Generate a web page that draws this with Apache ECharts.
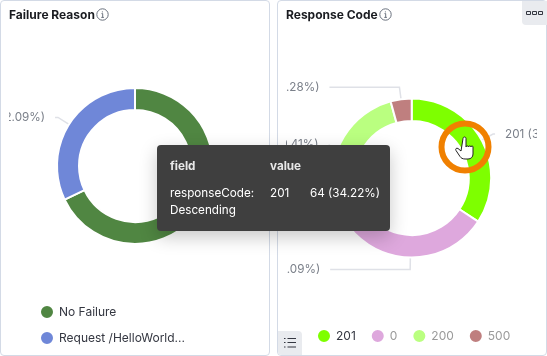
<!DOCTYPE html>
<html>
<head>
<meta charset="utf-8">
<script src="https://cdn.jsdelivr.net/npm/echarts@6/dist/echarts.min.js"></script>
<style>
html, body { margin: 0; padding: 0; background: #fff; }
body { width: 547px; height: 356px; position: relative; overflow: hidden; font-family: Inter, sans-serif; }
.panel { position: absolute; top: 0; height: 354px; background: #fff; border: 1px solid #d3dae6; border-radius: 4px; box-sizing: content-box; }
.clip { position: absolute; top: 0; height: 356px; overflow: hidden; }
.chart { position: absolute; top: 0; height: 356px; width: 947px; }
.title { position: absolute; top: 7px; font-size: 12px; font-weight: 700; color: #1a1c21; line-height: 15px; white-space: nowrap; }
.title svg { position: absolute; top: 1px; }
.btn { position: absolute; background: #e9ebef; }
.tip { position: absolute; left: 157px; top: 145px; width: 233px; height: 86px; background: #3f3f3f; border-radius: 4px; box-shadow: 0 6px 18px rgba(0,0,0,.22); color: #fff; font-size: 11.7px; }
.tip span { position: absolute; white-space: nowrap; line-height: 15px; }
.tip .h { font-weight: 700; color: #e8e8e8; }
.cursor { position: absolute; left: 0; top: 0; }
</style>
</head>
<body>
<div class="panel" style="left:0;width:268px"></div>
<div class="panel" style="left:277px;width:268px"></div>

<div class="clip" style="left:9px;width:260px"><div class="chart" id="failure" style="left:-209px"></div></div>
<div class="clip" style="left:286px;width:251px"><div class="chart" id="response" style="left:-200px"></div></div>

<div class="title" style="left:9px">Failure Reason<svg style="left:87px" width="13" height="13" viewBox="0 0 13 13"><circle cx="6.5" cy="6.5" r="5.7" fill="none" stroke="#69707d"/><path d="M5.5 5.6h1.2v3.6M5.3 9.4h2.6M6.4 3.4v1" fill="none" stroke="#69707d"/></svg></div>
<div class="title" style="left:286px">Response Code<svg style="left:93px" width="13" height="13" viewBox="0 0 13 13"><circle cx="6.5" cy="6.5" r="5.7" fill="none" stroke="#69707d"/><path d="M5.5 5.6h1.2v3.6M5.3 9.4h2.6M6.4 3.4v1" fill="none" stroke="#69707d"/></svg></div>

<div class="btn" style="left:522px;top:1px;width:25px;height:24px;border-radius:0 0 0 4px">
  <svg width="25" height="24"><path d="M4.500 10.500h4v3h-4zM10.500 10.500h4v3h-4zM16.500 10.500h4v3h-4z" fill="none" stroke="#343741"/></svg>
</div>
<div class="btn" style="left:278px;top:331px;width:24px;height:24px;border-radius:0 4px 0 4px">
  <svg width="24" height="24"><path d="M6 7.500h1.500M6 11.500h1.500M6 16h1.500M9.500 7.500h8.500M9.500 11.500h8.500M9.500 16h8.500" fill="none" stroke="#343741" stroke-width="1.200"/></svg>
</div>

<div class="tip">
  <span class="h" style="left:13px;top:14px">field</span>
  <span class="h" style="left:113px;top:14px">value</span>
  <span style="left:13px;top:41px">responseCode:</span>
  <span style="left:13px;top:58px">Descending</span>
  <span style="left:113px;top:41px">201</span>
  <span style="left:153px;top:41px">64 (34.22%)</span>
</div>

<svg class="cursor" width="547" height="356">
  <circle cx="465" cy="147" r="23.500" fill="none" stroke="#f08000" stroke-width="6"/>
  <path d="M461 151l-3-2.500c-1.500-1-3 .5-2 2l4 6c1 1.500 2.500 2.500 5 2.500h3c3 0 5-2 5-5v-7c0-1.500-2-1.500-2 0c0-1.500-2.500-1.500-2.500 0c0-1.500-2.500-1.500-2.500 0v-.5v-8c0-2-3-2-3 0z" fill="#fff" stroke="#222" stroke-width="1"/>
</svg>

<script>
var failureNames = ['No Failure', 'Request /HelloWorld...'];
var failureValues = [127, 60];
var failureColors = ['#508642', '#6f87d8'];

var responseNames = ['201', '0', '200', '500'];
var responseValues = [64, 60, 55, 8];
var responseColors = ['#7eff00', '#dea8dd', '#baff80', '#bf7f7f'];

function pieSeries(names, values, colors, center, radius, lines) {
    return {
        type: 'pie',
        center: center,
        radius: radius,
        startAngle: 90,
        animation: false,
        silent: true,
        itemStyle: { borderColor: '#fff', borderWidth: 2 },
        label: {
            color: '#7b808a',
            fontFamily: 'Inter',
            fontSize: 11.7,
            overflow: 'none',
            distanceToLabelLine: 10,
            formatter: function (p) { return p.name + ' (' + p.percent.toFixed(2) + '%)'; }
        },
        labelLine: { lineStyle: { color: '#dfe1e7', width: 1.5 } },
        data: names.map(function (n, i) {
            return {
                name: n,
                value: values[i],
                itemStyle: { color: colors[i] },
                labelLine: { length: lines[i][0], length2: lines[i][1], smooth: false }
            };
        })
    };
}

// charts sit 200px past the clip so the long labels are cut by the panel, not squeezed
var failureChart = echarts.init(document.getElementById('failure'), null, { renderer: 'canvas' });
failureChart.setOption({
    animation: false,
    legend: {
        orient: 'vertical',
        left: 234,
        top: 299,
        itemWidth: 14,
        itemHeight: 14,
        itemGap: 10,
        icon: 'circle',
        selectedMode: false,
        textStyle: { color: '#343741', fontFamily: 'Inter', fontSize: 12 },
        data: failureNames
    },
    series: [pieSeries(failureNames, failureValues, failureColors, [335, 166], [56, 78], [[13, 2], [13, 3]])]
});

var responseChart = echarts.init(document.getElementById('response'), null, { renderer: 'canvas' });
responseChart.setOption({
    animation: false,
    legend: {
        orient: 'horizontal',
        left: 225,
        top: 323,
        itemWidth: 14,
        itemHeight: 14,
        itemGap: 14,
        icon: 'circle',
        selectedMode: false,
        textStyle: { color: '#9a9a9a', fontFamily: 'Inter', fontSize: 12 },
        data: responseNames.map(function (n, i) {
            return { name: n, textStyle: { color: i === 0 ? '#343741' : '#9a9a9a' } };
        })
    },
    series: [pieSeries(responseNames, responseValues, responseColors, [325.7, 178], [57, 79.5], [[13, 2], [12, 80], [10, 0], [12, 70]])]
});
</script>
</body>
</html>
